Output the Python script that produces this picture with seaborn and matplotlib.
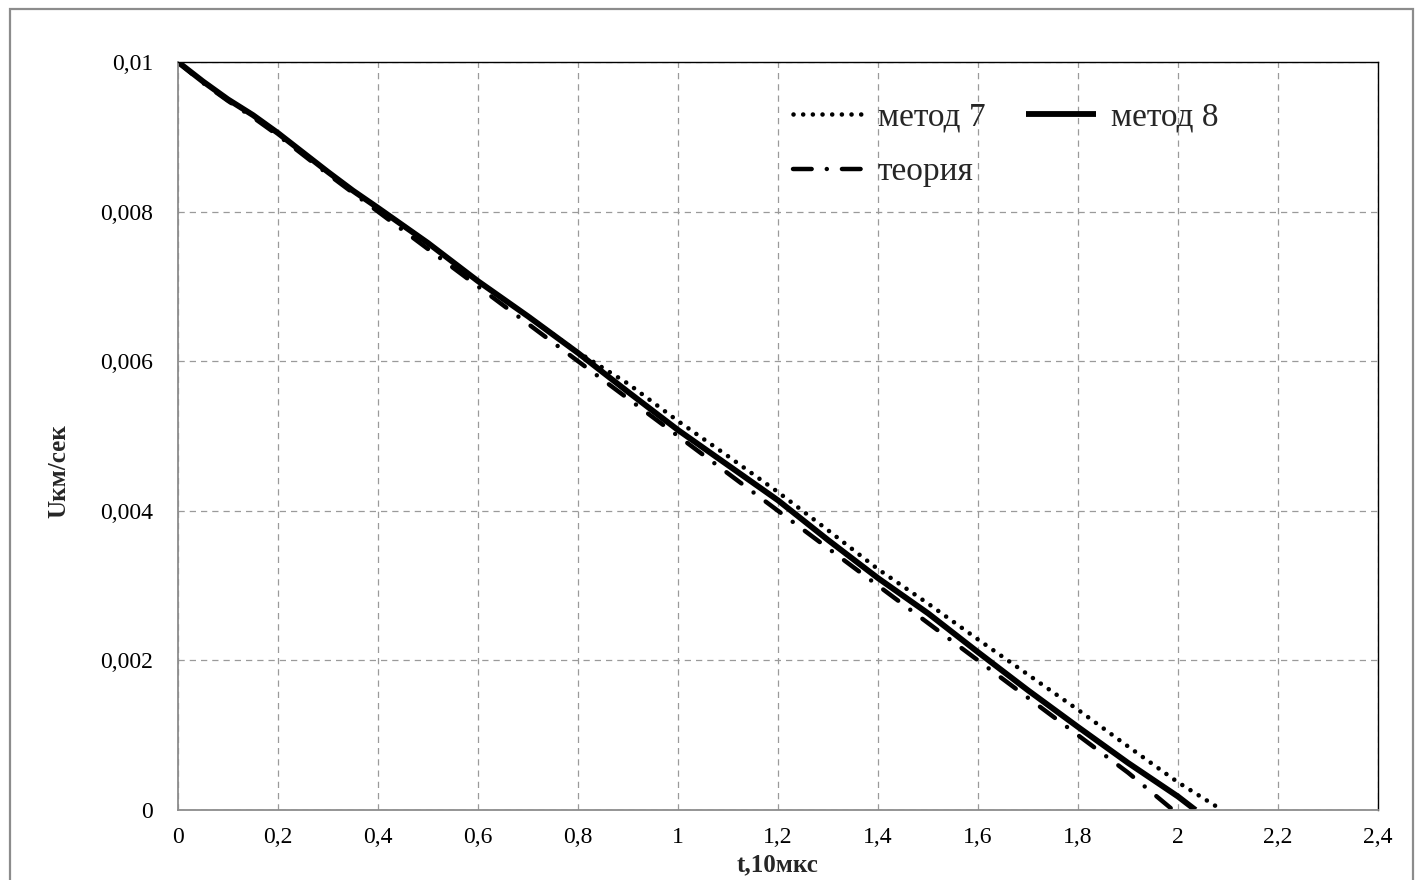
import numpy as np
import pandas as pd
import matplotlib.pyplot as plt
import seaborn as sns
from matplotlib.patches import Rectangle
from matplotlib.ticker import FuncFormatter

# ── data ─────────────────────────────────────────────────────────────────────
t_m8 = [0, 0.05, 0.1, 0.15, 0.2, 0.25, 0.3, 0.35, 0.4, 0.5, 0.6, 0.7, 0.8,
        0.9, 1.0, 1.1, 1.2, 1.3, 1.4, 1.5, 1.6, 1.7, 1.8, 1.9, 2.0, 2.035]
u_m8 = [0.0100, 0.00974, 0.00950, 0.00929, 0.00905, 0.00879, 0.00853, 0.00828,
        0.00805, 0.00758, 0.00707, 0.00660, 0.00611, 0.00559, 0.00508, 0.00461,
        0.00414, 0.00361, 0.00310, 0.00263, 0.00211, 0.00160, 0.00111, 0.00063,
        0.00018, 0.0]

t_m7 = [0, 0.05, 0.1, 0.15, 0.2, 0.25, 0.3, 0.35, 0.4, 0.5, 0.6, 0.7, 0.8,
        0.9, 1.0, 1.1, 1.2, 1.3, 1.4, 1.5, 1.6, 1.7, 1.8, 1.9, 2.0, 2.088]
u_m7 = [0.0100, 0.00974, 0.00950, 0.00929, 0.00905, 0.00879, 0.00853, 0.00828,
        0.00805, 0.00758, 0.00707, 0.00660, 0.00612, 0.00570, 0.00520, 0.00473,
        0.00425, 0.00374, 0.00322, 0.00276, 0.00228, 0.00181, 0.00134, 0.00085,
        0.00037, 0.0]

t_th = [0, 0.05, 0.1, 0.15, 0.2, 0.25, 0.3, 0.35, 0.4, 0.5, 0.6, 0.7, 0.8,
        0.9, 1.0, 1.1, 1.2, 1.3, 1.4, 1.5, 1.6, 1.7, 1.8, 1.9, 1.99]
u_th = [0.0100, 0.00972, 0.00948, 0.00926, 0.00902, 0.00876, 0.00850, 0.00825,
        0.00800, 0.00750, 0.00700, 0.00650, 0.00600, 0.00550, 0.00500, 0.00450,
        0.00400, 0.00350, 0.00300, 0.00250, 0.00200, 0.00150, 0.00100, 0.00050,
        0.0]

labels = ["метод 7", "метод 8", "теория"]
x_ticks = np.arange(0, 2.41, 0.2)
y_ticks = np.arange(0, 0.0101, 0.002)

# ── figure ───────────────────────────────────────────────────────────────────
sns.set_style("white")
plt.rcParams["font.family"] = ["Liberation Serif", "DejaVu Serif"]

fig = plt.figure(figsize=(14.17, 8.8), dpi=100)
ax = fig.add_axes([178 / 1417, 1 - 810 / 880, 1200 / 1417, 748 / 880])

# outer chart-area border
fig.patches.append(Rectangle((10 / 1417, -0.02), 1403 / 1417, 1 - 9 / 880 + 0.02,
                             transform=fig.transFigure, fill=False,
                             edgecolor="#8c8c8c", linewidth=1.6))

df7 = pd.DataFrame({"t": t_m7, "u": u_m7})
df8 = pd.DataFrame({"t": t_m8, "u": u_m8})
dft = pd.DataFrame({"t": t_th, "u": u_th})

sns.lineplot(data=df7, x="t", y="u", ax=ax, color="black", label=labels[0],
             linewidth=3.3, linestyle=(0, (0.01, 2.1)), dash_capstyle="round")
sns.lineplot(data=dft, x="t", y="u", ax=ax, color="black", label=labels[2],
             linewidth=3.2, linestyle=(0, (4.2, 3.4, 0.01, 3.4)),
             dash_capstyle="round")
sns.lineplot(data=df8, x="t", y="u", ax=ax, color="black", label=labels[1],
             linewidth=4.2, solid_capstyle="butt")

ax.set_xlim(0, 2.4)
ax.set_ylim(0, 0.01)
ax.set_xticks(x_ticks)
ax.set_yticks(y_ticks)
fmt = FuncFormatter(lambda v, _: f"{round(v, 4):g}".replace(".", ","))
ax.xaxis.set_major_formatter(fmt)
ax.yaxis.set_major_formatter(fmt)
ax.tick_params(axis="both", length=0, labelsize=17, colors="black")
ax.tick_params(axis="x", pad=12)
ax.tick_params(axis="y", pad=18)

ax.grid(True, color="#9a9a9a", linestyle=(0, (5, 4)), linewidth=0.9)
ax.set_axisbelow(True)

for side in ["left", "bottom"]:
    ax.spines[side].set_color("#8c8c8c")
    ax.spines[side].set_linewidth(1.3)
for side in ["top", "right"]:
    ax.spines[side].set_color("black")
    ax.spines[side].set_linewidth(1.0)

ax.set_xlabel("t,10мкс", fontsize=18, fontweight="bold", va="top")
ax.set_ylabel("Uкм/сек", fontsize=18, fontweight="bold")
ax.xaxis.set_label_coords(0.5, -0.058)
ax.yaxis.set_label_coords(-0.09, 0.453)

h, l = ax.get_legend_handles_labels()
order = [l.index(labels[0]), l.index(labels[2]), l.index(labels[1])]
ax.legend([h[i] for i in order], [l[i] for i in order], ncol=2,
          loc="upper left", bbox_to_anchor=(0.5125, 0.946), frameon=False,
          fontsize=24, handlelength=2.1, handletextpad=0.45,
          columnspacing=1.2, labelspacing=0.72, borderaxespad=0, borderpad=0)

fig.savefig("out.png", dpi=100, facecolor="white")
